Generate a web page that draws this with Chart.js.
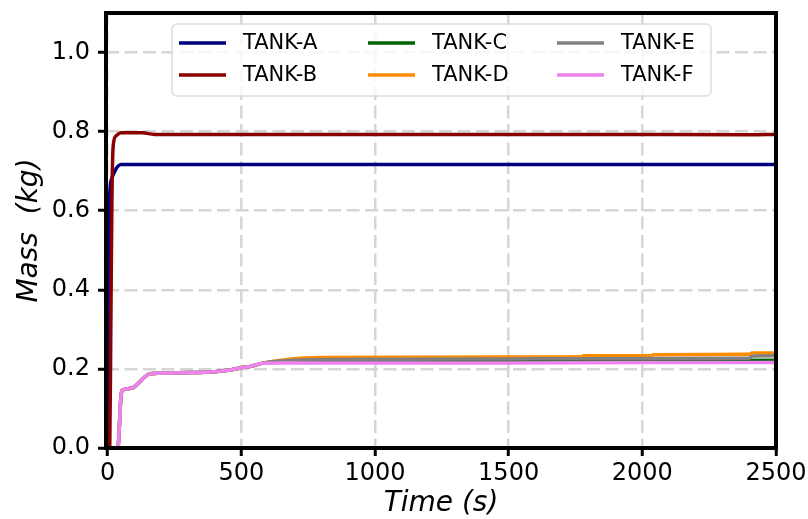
<!DOCTYPE html>
<html>
<head>
<meta charset="utf-8">
<script src="https://cdn.jsdelivr.net/npm/chart.js@4"></script>
<style>
  html, body { margin: 0; padding: 0; background: #fff; }
  #wrap { width: 808px; height: 519px; }
</style>
</head>
<body>
<div id="wrap"><canvas id="massChart" width="808" height="519"></canvas></div>
<script>
// tank names and line colours
const tankNames = ["TANK-A", "TANK-B", "TANK-C", "TANK-D", "TANK-E", "TANK-F"];
const tankColors = ["#000080", "#8b0000", "#006400", "#ff8c00", "#808080", "#ee82ee"];

// axis ticks
const timeTicks = [0, 500, 1000, 1500, 2000, 2500];
const massTicks = [0, 0.2, 0.4, 0.6, 0.8, 1.0];

// TANK-A and TANK-B fill quickly
const timeA = [0, 3, 8, 15, 27, 38, 50, 2500];
const massA = [0, 0.40, 0.64, 0.68, 0.70, 0.712, 0.717, 0.717];
const timeB = [0, 8, 12, 16, 21, 33, 50, 130, 175, 1000, 1750, 2400, 2500];
const massB = [0, 0, 0.30, 0.62, 0.765, 0.79, 0.797, 0.797, 0.793, 0.793, 0.793, 0.792, 0.793];

// C..F share the same start up to ~576 s
const earlyTime = [0, 38, 50, 55, 89, 120, 158, 345, 458, 500, 540, 576];
const earlyMass = [0, 0, 0.13, 0.146, 0.151, 0.167, 0.188, 0.191, 0.197, 0.203, 0.207, 0.214];

const timeC = [650, 800, 1500, 2000, 2500];
const massC = [0.217, 0.218, 0.219, 0.220, 0.222];
const timeD = [650, 720, 800, 1470, 1773, 1780, 2035, 2040, 2400, 2410, 2500];
const massD = [0.222, 0.227, 0.229, 0.230, 0.231, 0.233, 0.234, 0.236, 0.237, 0.240, 0.240];
const timeE = [650, 800, 1500, 1770, 2400, 2410, 2500];
const massE = [0.220, 0.224, 0.225, 0.226, 0.227, 0.232, 0.233];
const timeF = [650, 1000, 1500, 2000, 2500];
const massF = [0.215, 0.215, 0.215, 0.216, 0.216];

const pts = (ts, ms) => ts.map((t, i) => ({ x: t, y: ms[i] }));

const series = [
  pts(timeA, massA),
  pts(timeB, massB),
  pts(earlyTime.concat(timeC), earlyMass.concat(massC)),
  pts(earlyTime.concat(timeD), earlyMass.concat(massD)),
  pts(earlyTime.concat(timeE), earlyMass.concat(massE)),
  pts(earlyTime.concat(timeF), earlyMass.concat(massF)),
];

const FONT = "'DejaVu Sans', sans-serif";
const gridColor = "#d6d6d6";

// black frame on all four sides, over the lines
const framePlugin = {
  id: "frame",
  afterDatasetsDraw(chart) {
    const { ctx, chartArea: a } = chart;
    ctx.save();
    ctx.strokeStyle = "#000";
    ctx.lineWidth = 4;
    ctx.strokeRect(a.left, a.top, a.right - a.left, a.bottom - a.top);
    ctx.restore();
  },
};

// 3 columns x 2 rows legend, filled column by column
const legendPlugin = {
  id: "tankLegend",
  afterDatasetsDraw(chart) {
    const ctx = chart.ctx;
    ctx.save();
    ctx.beginPath();
    ctx.roundRect(172, 24, 539, 72, 5);
    ctx.fillStyle = "rgba(255,255,255,0.8)";
    ctx.fill();
    ctx.strokeStyle = "#dcdcdc";
    ctx.lineWidth = 1.5;
    ctx.stroke();
    ctx.font = "21px " + FONT;
    ctx.textBaseline = "middle";
    ctx.fillStyle = "#000";
    chart.data.datasets.forEach((ds, i) => {
      const col = Math.floor(i / 2), row = i % 2;
      const x = 179 + col * 189, y = 43 + row * 32;
      ctx.strokeStyle = ds.borderColor;
      ctx.lineWidth = 3.5;
      ctx.beginPath();
      ctx.moveTo(x, y);
      ctx.lineTo(x + 47, y);
      ctx.stroke();
      ctx.fillText(ds.label, x + 64, y + 1);
    });
    ctx.restore();
  },
};

new Chart(document.getElementById("massChart"), {
  type: "line",
  data: {
    datasets: series.map((d, i) => ({
      label: tankNames[i],
      data: d,
      borderColor: tankColors[i],
      backgroundColor: tankColors[i],
      borderWidth: 3.5,
      pointRadius: 0,
      cubicInterpolationMode: "monotone",
      order: tankNames.length - 1 - i,
    })),
  },
  options: {
    responsive: false,
    animation: false,
    devicePixelRatio: 1,
    layout: { padding: { left: 0, right: 32, top: 13, bottom: 0 } },
    plugins: { legend: { display: false }, tooltip: { enabled: false } },
    scales: {
      x: {
        type: "linear",
        min: -6,
        max: 2500,
        afterBuildTicks: (s) => { s.ticks = timeTicks.map((v) => ({ value: v })); },
        afterFit: (s) => { s.height = 71; s.paddingLeft = 0; s.paddingRight = 0; },
        grid: { color: gridColor, lineWidth: 2.5, tickColor: "#000", tickWidth: 3, tickLength: 8 },
        border: { display: false, dash: [13, 5.5] },
        ticks: {
          color: "#000", font: { family: FONT, size: 24 }, padding: 3, maxRotation: 0,
          callback: (v) => String(v),
        },
        title: {
          display: true, text: "Time (s)", color: "#000",
          font: { family: FONT, size: 28, style: "italic", lineHeight: 1.1 },
          padding: { top: 0, bottom: 0 },
        },
      },
      y: {
        min: 0,
        max: 1.1,
        afterBuildTicks: (s) => { s.ticks = massTicks.map((v) => ({ value: v })); },
        afterFit: (s) => { s.width = 106; s.paddingTop = 0; s.paddingBottom = 0; },
        grid: { color: gridColor, lineWidth: 2.5, tickColor: "#000", tickWidth: 3, tickLength: 8 },
        border: { display: false, dash: [13, 5.5] },
        ticks: {
          color: "#000", font: { family: FONT, size: 24 }, padding: 8,
          callback: (v) => v.toFixed(1),
        },
        title: {
          display: true, text: "Mass  (kg)", color: "#000",
          font: { family: FONT, size: 28, style: "italic", lineHeight: 1.15 },
          padding: { top: 14, bottom: 0 },
        },
      },
    },
  },
  plugins: [framePlugin, legendPlugin],
});
</script>
</body>
</html>
